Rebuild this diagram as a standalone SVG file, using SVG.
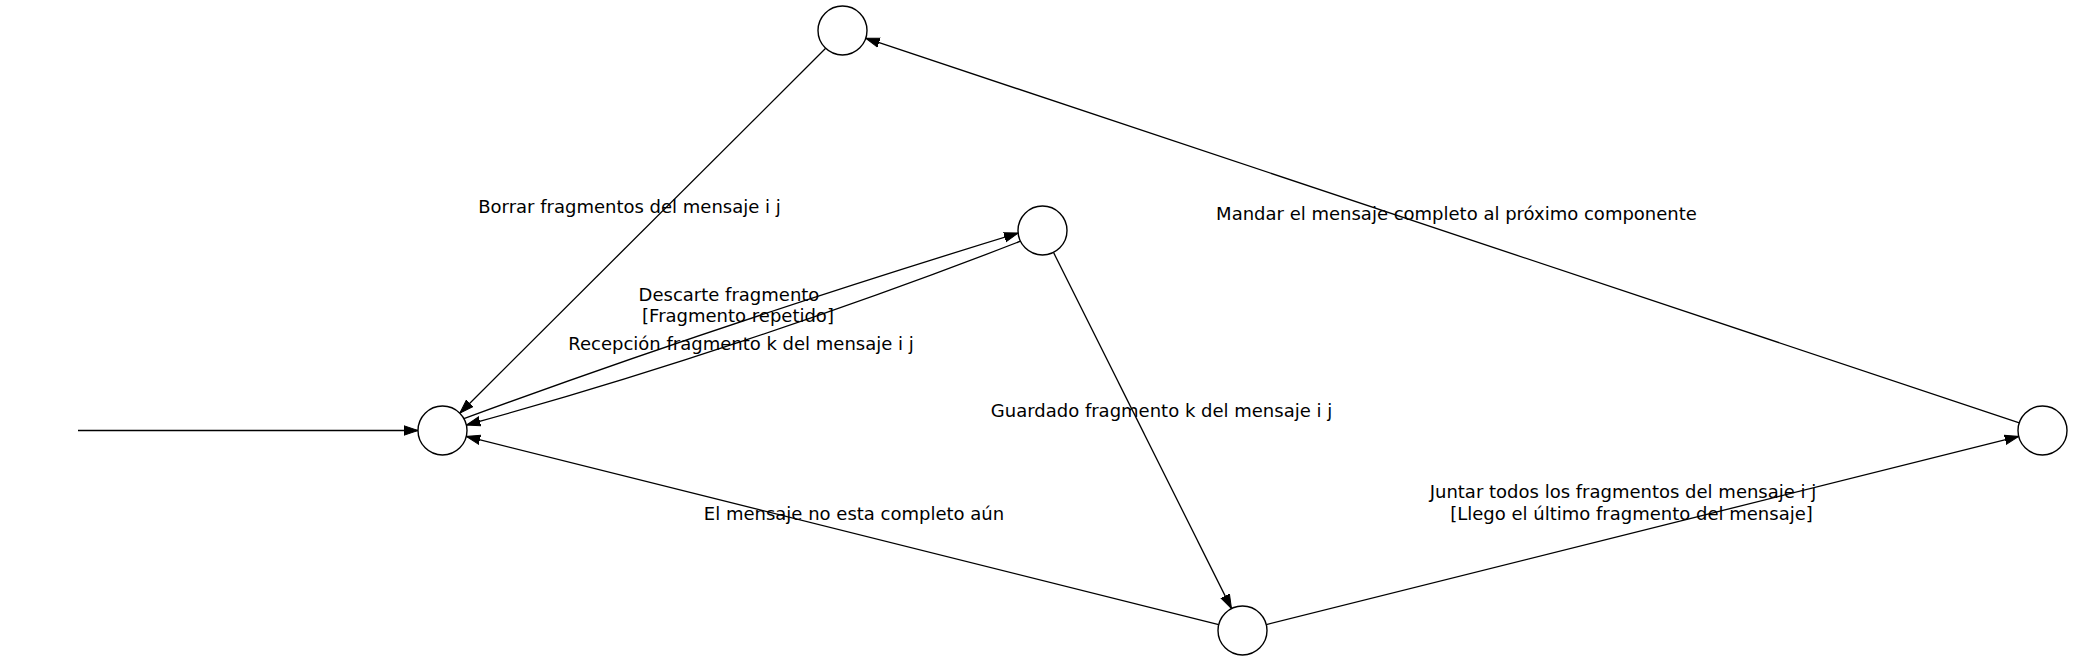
<svg xmlns="http://www.w3.org/2000/svg" width="2073" height="661" viewBox="0 0 2073 661">
<style>
.node{fill:#fff;stroke:#000;stroke-width:1.4}
.edge{fill:none;stroke:#000;stroke-width:1.3;marker-end:url(#arr)}
.lbl{font-family:"DejaVu Sans",sans-serif;font-size:18px;fill:#000;text-anchor:middle}
</style>
<defs>
<marker id="arr" markerUnits="userSpaceOnUse" markerWidth="16" markerHeight="12" refX="14" refY="0" viewBox="0 -6 16 12" orient="auto">
<path d="M0,-4.7 L14,0 L0,4.7 z" fill="#000" stroke="#000" stroke-width="1"/>
</marker>
</defs>
<rect width="2073" height="661" fill="#fff"/>
<g id="connectors">
<path class="edge" d="M78,430.5 L418,430.5"/>
<path class="edge" d="M825.7,48.3 L459.8,413.2"/>
<path class="edge" d="M463.9,418.6 C639,354 839,288 1018.1,233.1"/>
<path class="edge" d="M1020.5,241.2 C846,309 646,376 466.4,425"/>
<path class="edge" d="M1053.5,252.4 L1231.5,608.6"/>
<path class="edge" d="M1218.7,624.6 L466.3,436.4"/>
<path class="edge" d="M1266.3,624.6 L2018.7,436.4"/>
<path class="edge" d="M2019.3,422.8 L865.7,38.2"/>
</g>
<g id="labels">
<text class="lbl" x="629.5" y="213">Borrar fragmentos del mensaje i j</text>
<text class="lbl" x="729" y="301">Descarte fragmento</text>
<text class="lbl" x="738" y="322">[Fragmento repetido]</text>
<text class="lbl" x="741" y="350">Recepción fragmento k del mensaje i j</text>
<text class="lbl" x="1161.5" y="417">Guardado fragmento k del mensaje i j</text>
<text class="lbl" x="854" y="520">El mensaje no esta completo aún</text>
<text class="lbl" x="1623" y="498">Juntar todos los fragmentos del mensaje i j</text>
<text class="lbl" x="1631.5" y="520">[Llego el último fragmento del mensaje]</text>
<text class="lbl" x="1456.5" y="220">Mandar el mensaje completo al próximo componente</text>
</g>
<g id="node-start"><circle class="node" cx="442.5" cy="430.5" r="24.5"/></g>
<g id="node-top"><circle class="node" cx="842.5" cy="30.5" r="24.5"/></g>
<g id="node-mid"><circle class="node" cx="1042.5" cy="230.5" r="24.5"/></g>
<g id="node-bottom"><circle class="node" cx="1242.5" cy="630.5" r="24.5"/></g>
<g id="node-right"><circle class="node" cx="2042.5" cy="430.5" r="24.5"/></g>
</svg>
